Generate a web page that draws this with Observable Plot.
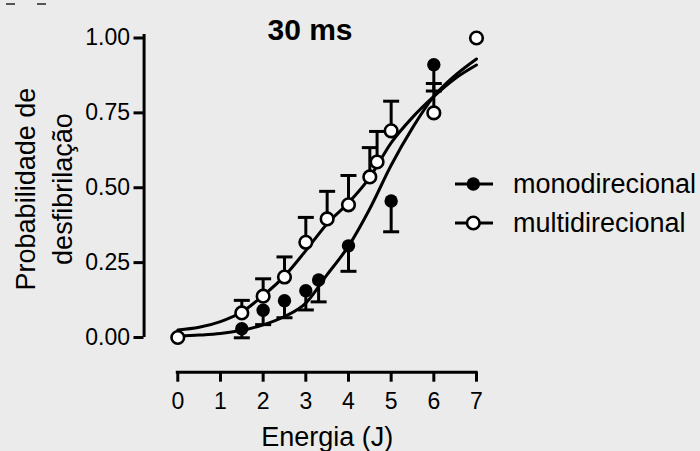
<!DOCTYPE html>
<html>
<head>
<meta charset="utf-8">
<script src="https://cdn.jsdelivr.net/npm/d3@7"></script>
<script src="https://cdn.jsdelivr.net/npm/@observablehq/plot@0.6"></script>
<style>
  html, body { margin: 0; padding: 0; background: #ebebeb; }
  #wrap { position: relative; width: 700px; height: 451px; overflow: hidden; font-family: "Liberation Sans", Arial, sans-serif; }
  #wrap > svg { position: absolute; left: 0; top: 0; }
  .legend { position: absolute; left: 455px; top: 164px; }
  .legend .row { display: flex; align-items: center; height: 39px; }
  .legend .row svg { display: block; flex: none; }
  .legend .row span { font-size: 27px; line-height: 39px; margin-left: 20px; color: #000; position: relative; top: 1px; white-space: nowrap; }
  .dash { position: absolute; top: 3px; width: 9px; height: 1.5px; background: #555; }
</style>
</head>
<body>
<div id="wrap"></div>
<script>
// ---- data ----
const title = "30 ms";
const xLabel = "Energia (J)";
const yLabel = "Probabilidade de\ndesfibrilação";
const seriesNames = ["monodirecional", "multidirecional"];

const xTicks = [0, 1, 2, 3, 4, 5, 6, 7];
const yTicks = [0, 0.25, 0.5, 0.75, 1];

// monodirecional (filled), error bars downward
const monoX   = [0, 1.5, 2, 2.5, 3, 3.3, 4, 5, 6];
const monoY   = [0, 0.029, 0.091, 0.123, 0.156, 0.192, 0.306, 0.456, 0.911];
const monoErr = [0, 0.030, 0.048, 0.057, 0.064, 0.073, 0.085, 0.103, 0.088];

// multidirecional (open), error bars upward
const multiX   = [0, 1.5, 2, 2.5, 3, 3.5, 4, 4.5, 4.67, 5, 6, 7];
const multiY   = [0, 0.082, 0.138, 0.202, 0.318, 0.396, 0.443, 0.536, 0.586, 0.690, 0.750, 1.0];
const multiErr = [0, 0.042, 0.058, 0.067, 0.083, 0.092, 0.098, 0.098, 0.102, 0.099, 0.098, 0];

// fitted curves
const curveX     = [0, 0.5, 1, 1.5, 2, 2.5, 3, 3.5, 4, 4.5, 5, 5.5, 6, 6.5, 7];
const monoCurve  = [0.005, 0.008, 0.013, 0.024, 0.042, 0.070, 0.115, 0.210, 0.305, 0.430, 0.575, 0.700, 0.805, 0.875, 0.930];
const multiCurve = [0.025, 0.034, 0.053, 0.085, 0.140, 0.205, 0.290, 0.380, 0.450, 0.535, 0.650, 0.735, 0.805, 0.865, 0.910];

// ---- build tables ----
const mono = monoX.map((x, i) => ({x, y: monoY[i], err: monoErr[i]}));
const multi = multiX.map((x, i) => ({x, y: multiY[i], err: multiErr[i]}));
const monoLine = curveX.map((x, i) => ({x, y: monoCurve[i]}));
const multiLine = curveX.map((x, i) => ({x, y: multiCurve[i]}));

const xDomain = [0, 7];
const yDomain = [0, 1];
const xAxisLineAt = [-0.116];   // y value where the detached x axis sits
const yAxisLineAt = [-0.79];    // x value where the detached y axis sits
const xMid = (xDomain[0] + xDomain[1]) / 2;

const capSymbol = { draw(ctx) { ctx.moveTo(-8, 0); ctx.lineTo(8, 0); } };

const font = '"Liberation Sans", Arial, sans-serif';

const chart = Plot.plot({
  width: 700,
  height: 451,
  marginLeft: 143.5,
  marginRight: 224.5,
  marginTop: 37.5,
  marginBottom: 79.3,
  style: { background: "none", fontFamily: font, color: "#000" },
  x: { domain: xDomain, range: [177.3, 476] },
  y: { domain: yDomain, range: [337, 37.5] },
  marks: [
    // axes lines
    Plot.ruleY(xAxisLineAt, { x1: xDomain[0], x2: xDomain[1], stroke: "#000", strokeWidth: 3, strokeLinecap: "square" }),
    Plot.ruleX(yAxisLineAt, { y1: yDomain[0], y2: 1.012, stroke: "#000", strokeWidth: 3 }),
    Plot.axisX({ ticks: xTicks, tickFormat: d3.format("d"), tickSize: 10, tickPadding: 10, fontSize: 23, strokeWidth: 3, label: null }),
    Plot.axisY({ ticks: yTicks, tickFormat: d3.format(".2f"), tickSize: 10, tickPadding: 4, fontSize: 23, strokeWidth: 3, label: null }),
    // curves
    Plot.line(monoLine, { x: "x", y: "y", stroke: "#000", strokeWidth: 3, curve: "monotone-x" }),
    Plot.line(multiLine, { x: "x", y: "y", stroke: "#000", strokeWidth: 3, curve: "monotone-x" }),
    // error bars
    Plot.ruleX(mono.filter(d => d.err > 0), { x: "x", y1: "y", y2: d => d.y - d.err, stroke: "#000", strokeWidth: 3 }),
    Plot.dot(mono.filter(d => d.err > 0), { x: "x", y: d => d.y - d.err, symbol: capSymbol, stroke: "#000", strokeWidth: 3, fill: "none" }),
    Plot.ruleX(multi.filter(d => d.err > 0), { x: "x", y1: "y", y2: d => d.y + d.err, stroke: "#000", strokeWidth: 3 }),
    Plot.dot(multi.filter(d => d.err > 0), { x: "x", y: d => d.y + d.err, symbol: capSymbol, stroke: "#000", strokeWidth: 3, fill: "none" }),
    // points
    Plot.dot(mono, { x: "x", y: "y", r: 6.7, fill: "#000", stroke: "none" }),
    Plot.dot(multi, { x: "x", y: "y", r: 6.3, fill: "#fff", stroke: "#000", strokeWidth: 2.6 }),
    // texts
    Plot.text([title], { frameAnchor: "top", lineAnchor: "bottom", dy: 2, fontSize: 30, fontWeight: "bold", fill: "#000" }),
    Plot.text([xLabel], { x: () => xMid, frameAnchor: "bottom", lineAnchor: "bottom", dy: 73.5, fontSize: 27, fill: "#000" }),
    Plot.text([yLabel], { frameAnchor: "left", textAnchor: "middle", rotate: -90, lineAnchor: "bottom", lineHeight: 1.36, dx: -71.8, dy: -16, fontSize: 27, fill: "#000" })
  ]
});

const wrap = document.getElementById("wrap");
wrap.appendChild(chart);

// top-left marks
[6, 37].forEach(left => {
  const d = document.createElement("div");
  d.className = "dash";
  d.style.left = left + "px";
  wrap.appendChild(d);
});

// legend
const legend = document.createElement("div");
legend.className = "legend";
const swatch = (filled) =>
  `<svg width="38" height="20" style="overflow:visible"><line x1="0" x2="38" y1="10" y2="10" stroke="#000" stroke-width="3"/>` +
  (filled
    ? `<circle cx="18.3" cy="10" r="6.7" fill="#000"/>`
    : `<circle cx="18.3" cy="10" r="6.3" fill="#fff" stroke="#000" stroke-width="2.6"/>`) + `</svg>`;
legend.innerHTML = seriesNames.map((name, i) =>
  `<div class="row">${swatch(i === 0)}<span>${name}</span></div>`).join("");
wrap.appendChild(legend);
</script>
</body>
</html>
